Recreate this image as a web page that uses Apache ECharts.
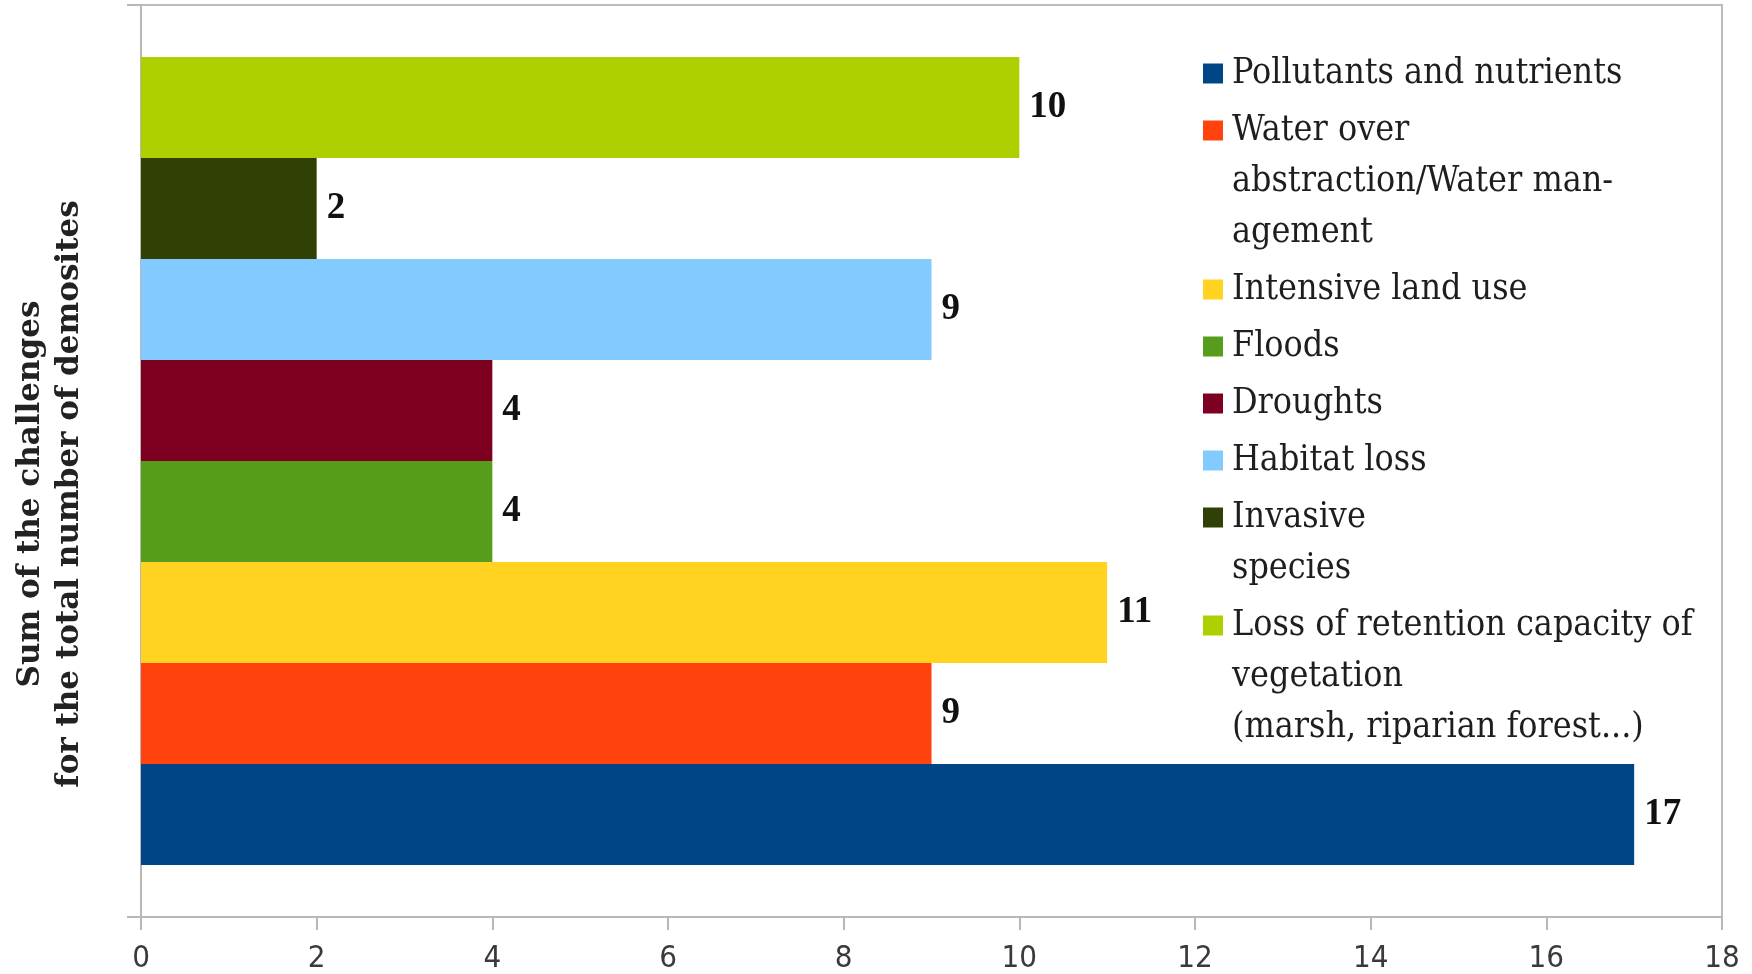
<!DOCTYPE html>
<html>
<head>
<meta charset="utf-8">
<script src="https://cdn.jsdelivr.net/npm/echarts@6/dist/echarts.min.js"></script>
<style>
html,body{margin:0;padding:0;background:#fff;}
#chart{width:1752px;height:974px;}
</style>
</head>
<body>
<div id="chart"></div>
<script>
// ---- data ----
const categories = ['Challenges'];
const challengeNames = [
  'Pollutants and nutrients',
  'Water over abstraction/Water management',
  'Intensive land use',
  'Floods',
  'Droughts',
  'Habitat loss',
  'Invasive species',
  'Loss of retention capacity of vegetation (marsh, riparian forest...)'
];
const legendLines = [
  ['Pollutants and nutrients'],
  ['Water over', 'abstraction/Water man-', 'agement'],
  ['Intensive land use'],
  ['Floods'],
  ['Droughts'],
  ['Habitat loss'],
  ['Invasive', 'species'],
  ['Loss of retention capacity of', 'vegetation', '(marsh, riparian forest...)']
];
const challengeValues = [17, 9, 11, 4, 4, 9, 2, 10];
const colors = ['#004586', '#ff420e', '#ffd320', '#579d1c', '#7e0021', '#83caff', '#314004', '#aecf00'];
const xMin = 0, xMax = 18, xInterval = 2;
const yTitle = 'Sum of the challenges\nfor the total number of demosites';

// ---- chart ----
const chart = echarts.init(document.getElementById('chart'));

const LH = 51;
const legendFont = "'DejaVu Serif Condensed', 'DejaVu Serif', serif";
const rich = {
  t: { fontFamily: legendFont, fontSize: 35.5, color: '#1e1e1e', lineHeight: LH },
  g: { width: 9, height: 20, lineHeight: LH },
  i: { width: 29, height: 20, lineHeight: LH }
};
colors.forEach((c, k) => { rich['m' + k] = { width: 20, height: 20, lineHeight: LH, backgroundColor: c }; });

// series listed from top bar to bottom bar
const order = challengeNames.map((_, k) => k).reverse();
const series = order.map(k => ({
  name: challengeNames[k],
  type: 'bar',
  data: [challengeValues[k]],
  itemStyle: { color: colors[k] },
  barGap: '0%',
  barCategoryGap: '11.4%',
  label: {
    show: true,
    position: 'right',
    distance: 10,
    fontFamily: "'Liberation Serif', serif",
    fontWeight: 'bold',
    fontSize: 37,
    color: '#111'
  }
}));

chart.setOption({
  animation: false,
  backgroundColor: '#fff',
  grid: { left: 141, right: 30, top: 5, bottom: 55, show: true, borderColor: '#bcbcbc', borderWidth: 2 },
  legend: {
    orient: 'vertical',
    left: 1198,
    top: 48,
    padding: 0,
    itemGap: 6,
    itemWidth: 0,
    itemHeight: 0,
    selectedMode: false,
    data: challengeNames,
    itemStyle: { opacity: 0 },
    textStyle: { fontFamily: legendFont, fontSize: 35.5, lineHeight: LH, color: '#1e1e1e', rich: rich },
    formatter: function (name) {
      const k = challengeNames.indexOf(name);
      const lines = legendLines[k];
      let s = '{m' + k + '|}{g|}{t|' + lines[0] + '}';
      for (let j = 1; j < lines.length; j++) s += '\n{i|}{t|' + lines[j] + '}';
      return s;
    }
  },
  xAxis: {
    type: 'value',
    min: xMin,
    max: xMax,
    interval: xInterval,
    splitLine: { show: false },
    axisLine: { show: true, lineStyle: { color: '#b8b8b8', width: 2 } },
    axisTick: { show: true, length: 13, lineStyle: { color: '#b8b8b8', width: 2 } },
    axisLabel: {
      margin: 26,
      fontFamily: "'Liberation Sans Narrow', 'DejaVu Sans Condensed', sans-serif",
      fontSize: 31,
      color: '#3a3a3a'
    }
  },
  yAxis: {
    type: 'category',
    data: categories,
    axisLine: { show: true, lineStyle: { color: '#b8b8b8', width: 2 } },
    axisTick: { show: true, length: 14, lineStyle: { color: '#b8b8b8', width: 2 } },
    axisLabel: { show: false },
    name: yTitle,
    nameLocation: 'middle',
    nameRotate: 90,
    nameGap: 52,
    nameTextStyle: {
      fontFamily: "'DejaVu Serif', serif",
      fontWeight: 'bold',
      fontSize: 31,
      lineHeight: 39,
      color: '#222',
      padding: [0, 66, 0, 0]
    }
  },
  series: series
});
</script>
</body>
</html>
